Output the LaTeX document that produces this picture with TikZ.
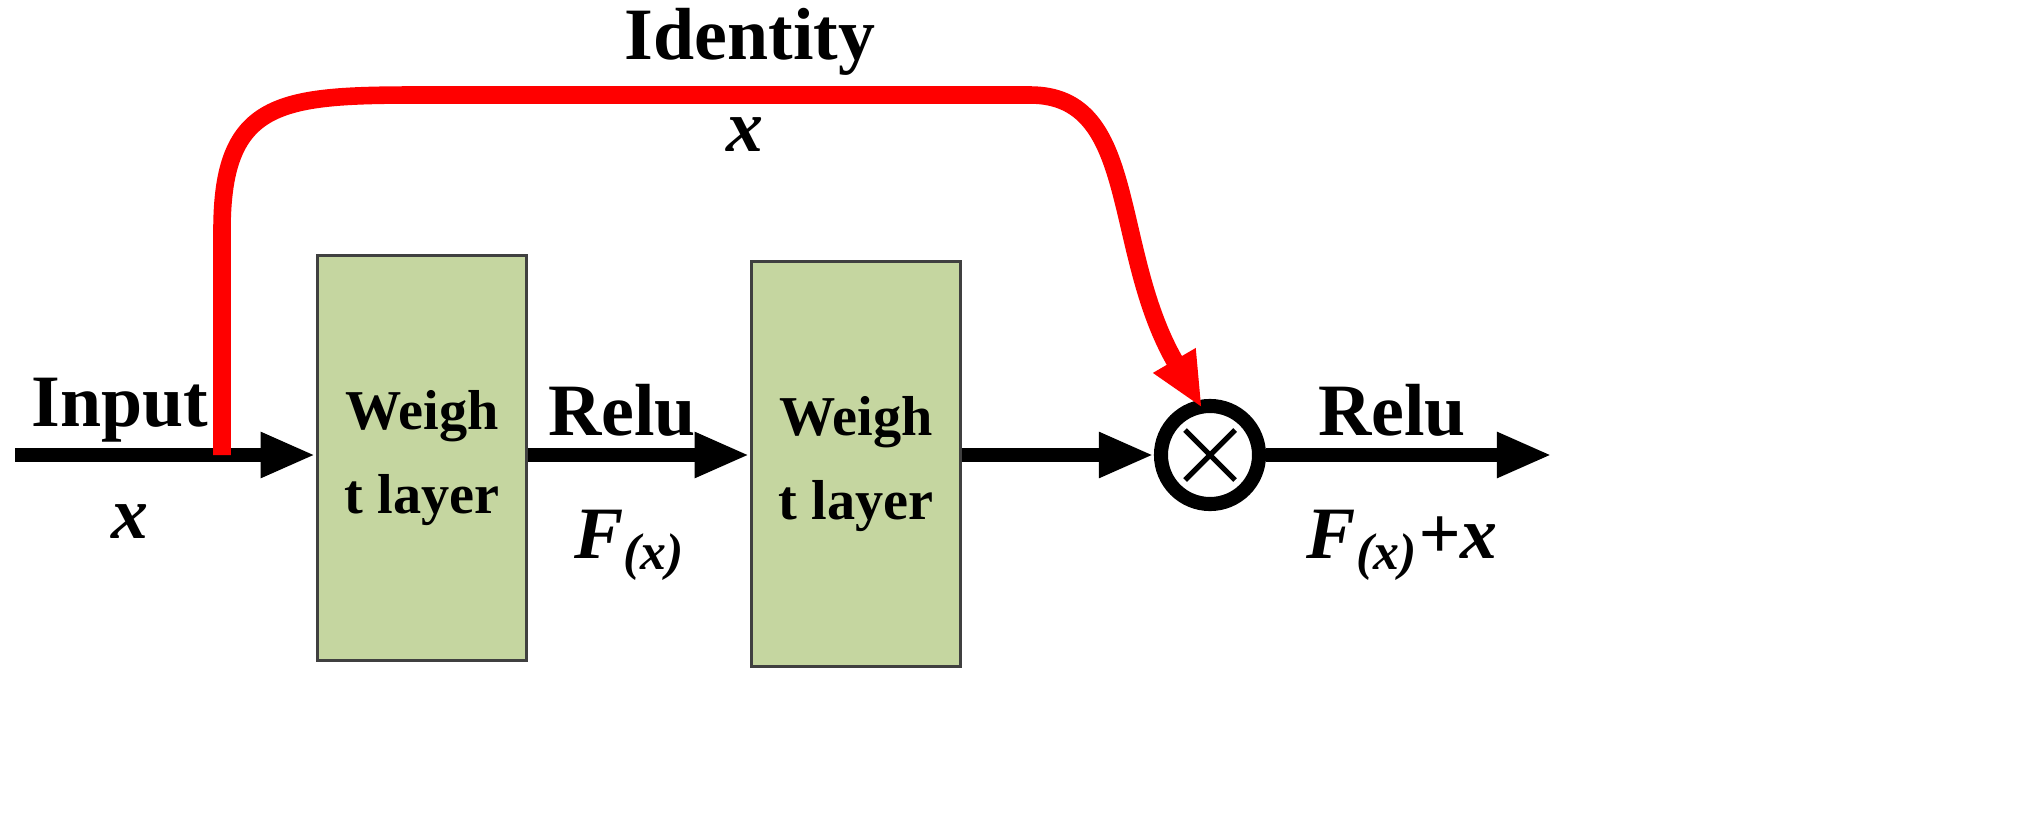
\documentclass[tikz,border=0pt]{standalone}
\usepackage{fontspec}
\setmainfont{Liberation Serif}
\usetikzlibrary{arrows.meta}
\begin{document}
\begin{tikzpicture}[x=0.01cm,y=-0.01cm,
  wbox/.style={draw=black!75, line width=1pt, fill={rgb,255:red,197;green,214;blue,160},
    minimum width=2.09cm, minimum height=4.05cm, inner sep=0pt, align=center,
    font=\fontsize{16}{24}\selectfont\bfseries},
  flow/.style={line width=4pt, -{Triangle[length=0.55cm,width=0.42cm]}},
  lbl/.style={font=\fontsize{21}{24}\selectfont\bfseries},
  var/.style={font=\fontsize{21}{24}\selectfont\bfseries\itshape}]
  \useasboundingbox (0,0) rectangle (2018,818);
  \coordinate (in) at (15,455);
  \coordinate (split) at (222,455);
  \coordinate (tip) at (1202,408);
  \node [wbox] (w1) at (422,458) {Weigh\\t layer};
  \node [wbox] (w2) at (856,464) {Weigh\\t layer};
  \node [circle, draw, line width=4pt, minimum size=0.98cm, inner sep=0pt] (sum) at (1210,455) {};
  \draw [line width=1.5pt] (1185,430) -- (1235,480) (1235,430) -- (1185,480);
  \coordinate (out) at (1552,455);
  % main path
  \draw [flow] (in) -- (w1.west |- in);
  \draw [flow] (w1.east |- in) -- (w2.west |- in);
  \draw [flow] (w2.east |- in) -- (sum.west);
  \draw [flow] (sum.east) -- (out);
  % identity shortcut
  \draw [red, line width=5pt, -{Triangle[length=0.55cm,width=0.45cm]}]
    (split) -- (222,230) .. controls (222,100) and (280,95) .. (420,95)
    -- (1030,95) .. controls (1140,95) and (1110,250) .. (tip);
  % labels
  \node [lbl] (tin) at (120,410) {Input};
  \node [var] (xin) at (130,522) {x};
  \node [lbl] (r1) at (622,410) {Relu};
  \node [var] (f1) at (630,545) {F\textsubscript{(x)}};
  \node [lbl] (r2) at (1392,410) {Relu};
  \node [var] (f2) at (1402,545) {F\textsubscript{(x)}+x};
  \node [lbl] (tid) at (750,42) {Identity};
  \node [var] (xid) at (745,135) {x};
\end{tikzpicture}
\end{document}
